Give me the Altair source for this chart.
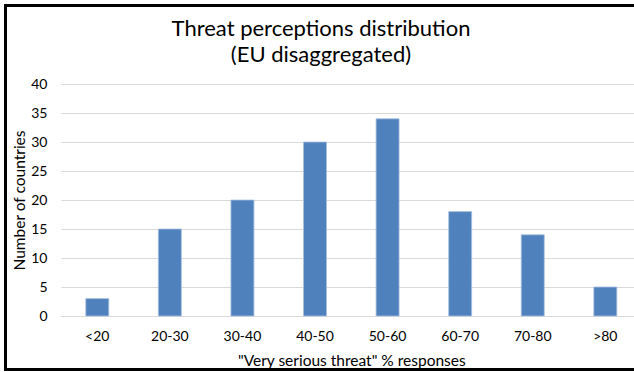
import altair as alt
import pandas as pd

# Share of "very serious threat" responses, binned, and number of countries per bin
bins = ["<20", "20-30", "30-40", "40-50", "50-60", "60-70", "70-80", ">80"]
countries = [3, 15, 20, 30, 34, 18, 14, 5]
title_lines = ["Threat perceptions distribution", "(EU disaggregated)"]

df = pd.DataFrame({"bin": bins, "countries": countries})
title_df = pd.DataFrame({"line": title_lines})

FONT = "Lato"
BLUE = "#4F81BD"
GRID = "#D9D9D9"

bars = alt.Chart(df).mark_bar(
    color=BLUE, stroke="#A9C0E0", strokeWidth=0.8
).encode(
    x=alt.X(
        "bin:N",
        sort=bins,
        scale=alt.Scale(range=[0, 580.6], paddingInner=0.683, paddingOuter=0.3415),
        axis=alt.Axis(
            title='"Very serious threat" % responses',
            labelAngle=0,
            ticks=False,
            labelPadding=13,
            domainColor=GRID,
            domainWidth=1,
            titleY=44,
            titleBaseline="middle",
            titleFontWeight="normal",
        ),
    ),
    y=alt.Y(
        "countries:Q",
        scale=alt.Scale(domain=[0, 40]),
        axis=alt.Axis(
            title="Number of countries",
            values=[0, 5, 10, 15, 20, 25, 30, 35, 40],
            ticks=False,
            domain=False,
            labelPadding=14,
            gridColor=GRID,
            gridWidth=1,
            titleX=-42,
            titleY=116,
            titleBaseline="middle",
            titleFontWeight="normal",
        ),
    ),
)

# two-line heading above the plot
heading = alt.Chart(title_df).transform_window(
    row="row_number()"
).mark_text(
    font=FONT, fontSize=22, color="#000000", align="center", baseline="alphabetic"
).encode(
    text="line:N",
    x=alt.value(260),
    y=alt.Y("row:Q", scale=alt.Scale(domain=[1, 2], range=[-48, -22]), axis=None),
)

# outer frame around the whole figure
frame = alt.Chart(df).mark_rect(
    fill=None, stroke="#000000", strokeWidth=2.5, clip=False
).encode(
    x=alt.value(-55.7),
    x2=alt.value(700),
    y=alt.value(-78.7),
    y2=alt.value(285.5),
)

chart = alt.layer(bars, heading, frame).resolve_scale(
    y="independent"
).properties(
    width=573,
    height=232,
    padding={"left": 61, "right": 0, "top": 84, "bottom": 56},
    autosize=alt.AutoSizeParams(type="none"),
    background="#FFFFFF",
).configure_view(
    stroke=None
).configure_axis(
    labelFont=FONT,
    titleFont=FONT,
    labelFontSize=14,
    titleFontSize=15.5,
    labelColor="#000000",
    titleColor="#000000",
)

chart.save("out.html", embed_options={"renderer": "svg", "actions": False})
